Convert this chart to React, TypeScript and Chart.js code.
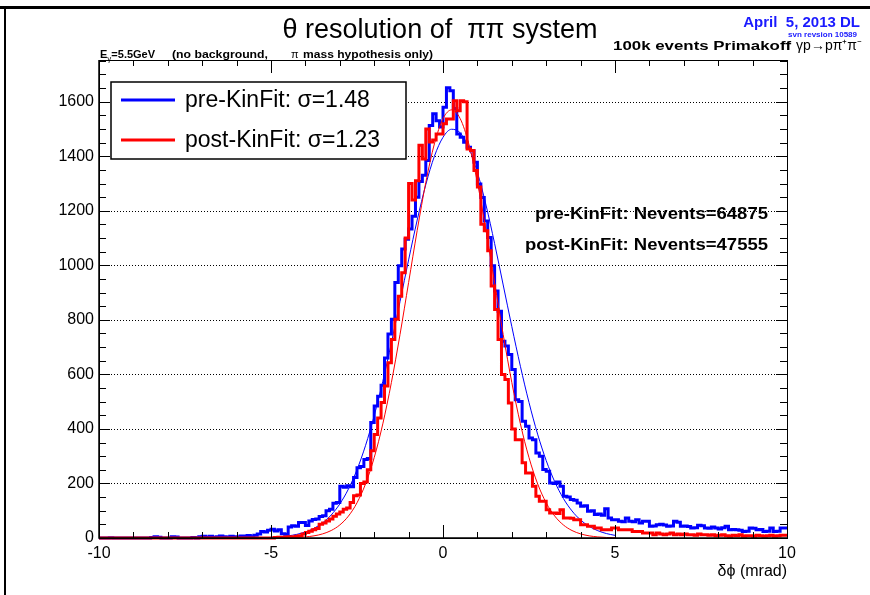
import { useEffect, useRef } from 'react';
import { Chart, registerables } from 'chart.js';

Chart.register(...registerables);

// ---------------- data ----------------
const BIN_START = -10;
const BIN_WIDTH = 0.1;

// pre-KinFit histogram (blue), 200 bins of 0.1 mrad from -10 to 10
const preKinFit = [
  0, 0, 0, 0, 1, 0, 0, 0, 0, 0,
  0, 0, 0, 0, 0, 0, 2, 5, 3, 0,
  0, 0, 5, 4, 0, 0, 0, 0, 2, 0,
  5, 6, 3, 6, 2, 5, 7, 5, 3, 6,
  5, 4, 7, 6, 9, 5, 10, 15, 24, 22,
  28, 32, 26, 30, 16, 14, 40, 45, 43, 57,
  57, 46, 62, 68, 70, 79, 82, 100, 105, 127,
  130, 190, 186, 192, 188, 222, 258, 262, 288, 292,
  424, 484, 520, 560, 660, 748, 802, 937, 998, 1060,
  1096, 1133, 1180, 1250, 1307, 1330, 1384, 1513, 1556, 1530,
  1507, 1580, 1651, 1640, 1575, 1482, 1470, 1451, 1433, 1420,
  1378, 1298, 1249, 1163, 1102, 998, 906, 832, 722, 704,
  673, 618, 507, 501, 428, 410, 367, 360, 312, 300,
  251, 245, 202, 200, 205, 190, 153, 150, 141, 138,
  128, 116, 118, 98, 100, 86, 88, 83, 107, 73,
  67, 67, 61, 60, 73, 61, 60, 67, 55, 61,
  61, 43, 44, 49, 50, 48, 43, 44, 61, 58,
  43, 44, 42, 37, 38, 47, 45, 37, 36, 40,
  37, 33, 38, 43, 30, 31, 30, 28, 24, 25,
  37, 36, 30, 31, 24, 25, 37, 24, 25, 37,
];

// post-KinFit histogram (red)
const postKinFit = [
  0, 0, 0, 0, 0, 0, 0, 0, 0, 0,
  0, 0, 0, 0, 0, 0, 0, 0, 0, 0,
  0, 0, 0, 0, 0, 0, 0, 0, 0, 0,
  0, 0, 0, 0, 0, 0, 0, 0, 0, 0,
  0, 0, 0, 0, 0, 0, 0, 0, 0, 0,
  0, 0, 2, 3, 2, 4, 5, 4, 6, 8,
  15, 20, 25, 30, 35, 50, 55, 62, 70, 80,
  88, 95, 105, 110, 130, 155, 158, 200, 205, 250,
  320, 380, 440, 497, 557, 643, 728, 802, 887, 973,
  1100, 1300, 1240, 1310, 1440, 1390, 1500, 1452, 1460, 1482,
  1482, 1519, 1537, 1537, 1604, 1567, 1604, 1600, 1427, 1421,
  1348, 1287, 1151, 1127, 1053, 924, 838, 728, 600, 581,
  495, 400, 360, 360, 276, 238, 238, 190, 153, 135,
  135, 104, 92, 92, 90, 104, 73, 73, 72, 67,
  67, 49, 49, 43, 43, 37, 37, 30, 30, 30,
  37, 37, 30, 30, 30, 30, 24, 24, 24, 18,
  18, 18, 12, 18, 15, 12, 15, 18, 12, 15,
  12, 15, 12, 12, 10, 15, 12, 12, 10, 12,
  8, 10, 12, 8, 6, 10, 8, 12, 6, 8,
  8, 6, 10, 8, 6, 8, 10, 6, 8, 10,
];

const fitX = [
  -5, -4.75, -4.5, -4.25, -4, -3.75, -3.5, -3.25, -3, -2.75,
  -2.5, -2.25, -2, -1.75, -1.5, -1.25, -1, -0.75, -0.5, -0.25,
  0, 0.25, 0.5, 0.75, 1, 1.25, 1.5, 1.75, 2, 2.25,
  2.5, 2.75, 3, 3.25, 3.5, 3.75, 4, 4.25, 4.5, 4.75, 5,
];
const preFit = [
  2.5, 4.4, 7.8, 13.3, 22, 35.5, 55.5, 84.5, 124.9, 179.4,
  250.5, 339.9, 448.5, 574.8, 716, 866.8, 1019.8, 1166, 1296, 1400,
  1469.5, 1499, 1486, 1432, 1341, 1221, 1080, 928, 775.5, 629.7,
  497, 381, 284, 205.8, 144.9, 99.2, 65.9, 42.6, 26.8, 16.3, 9.7,
];
const postFit = [
  0.2, 0.4, 0.9, 1.9, 4, 7.9, 15.1, 27.4, 47.8, 80.2,
  129, 199, 294.7, 418.6, 570.5, 746, 936.8, 1128, 1303.7, 1445.5,
  1538, 1570, 1538, 1445.5, 1303.7, 1128, 936.8, 746, 570.5, 418.6,
  294.7, 199, 129, 80.2, 47.8, 27.4, 15.1, 7.9, 4, 1.9, 0.9,
];

const xTicks = [-10, -5, 0, 5, 10];
const yTicks = [0, 200, 400, 600, 800, 1000, 1200, 1400, 1600];
const legendLabels = ['pre-KinFit: \u03c3=1.48', 'post-KinFit: \u03c3=1.23'];
const neventsLabels = ['pre-KinFit: Nevents=64875', 'post-KinFit: Nevents=47555'];
const BLUE = '#0000ff';
const RED = '#ff0000';
const FONT = '"Liberation Sans", Arial, Helvetica, sans-serif';

function toSteps(vals: number[]) {
  const pts = vals.map((v, i) => ({ x: BIN_START + i * BIN_WIDTH, y: v }));
  pts.push({ x: BIN_START + vals.length * BIN_WIDTH, y: vals[vals.length - 1] });
  return pts;
}
function toCurve(xs: number[], ys: number[]) {
  return xs.map((x, i) => ({ x, y: ys[i] }));
}

// draw text left-aligned at x, stretched horizontally to a given width
function wideText(ctx: any, text: string, x: number, y: number, width: number) {
  const w = ctx.measureText(text).width;
  ctx.save();
  ctx.textAlign = 'left';
  ctx.translate(x, y);
  ctx.scale(width / w, 1);
  ctx.fillText(text, 0, 0);
  ctx.restore();
}

const rootPlugin = {
  id: 'rootStyle',
  beforeDraw(chart: any) {
    const { ctx, width, height } = chart;
    ctx.save();
    ctx.fillStyle = '#fff';
    ctx.fillRect(0, 0, width, height);
    ctx.fillStyle = '#000';
    ctx.fillRect(0, 6, width, 3);
    ctx.fillRect(4, 6, 2, height - 6);
    ctx.restore();
  },
  beforeDatasetsDraw(chart: any) {
    const { ctx, chartArea } = chart;
    const y = chart.scales.y;
    ctx.save();
    ctx.strokeStyle = '#000';
    ctx.lineWidth = 1;
    ctx.setLineDash([1, 2]);
    yTicks.forEach((v) => {
      if (v === 0) return;
      const py = Math.round(y.getPixelForValue(v)) + 0.5;
      ctx.beginPath();
      ctx.moveTo(chartArea.left, py);
      ctx.lineTo(chartArea.right, py);
      ctx.stroke();
    });
    ctx.restore();
  },
  afterDatasetsDraw(chart: any) {
    const { ctx, chartArea } = chart;
    const xs = chart.scales.x;
    const ys = chart.scales.y;
    const L = chartArea.left, R = chartArea.right, T = chartArea.top, B = chartArea.bottom;
    ctx.save();
    ctx.strokeStyle = '#000';
    ctx.setLineDash([]);
    ctx.lineWidth = 1;
    ctx.strokeRect(Math.round(L) + 0.5, Math.round(T) + 0.5, Math.round(R - L), Math.round(B - T));
    ctx.lineWidth = 1.5;
    ctx.beginPath();
    ctx.moveTo(L, T); ctx.lineTo(L, B); ctx.lineTo(R, B);
    ctx.stroke();
    ctx.lineWidth = 1;
    for (let v = -10; v <= 10; v += 1) {
      const px = Math.round(xs.getPixelForValue(v)) + 0.5;
      const len = v % 5 === 0 ? 13 : 6;
      ctx.beginPath();
      ctx.moveTo(px, B); ctx.lineTo(px, B - len);
      ctx.moveTo(px, T); ctx.lineTo(px, T + len);
      ctx.stroke();
    }
    for (let v = 0; v <= 1750; v += 50) {
      const py = Math.round(ys.getPixelForValue(v)) + 0.5;
      if (py < T) continue;
      const len = v % 200 === 0 ? 11 : 7;
      ctx.beginPath();
      ctx.moveTo(L, py); ctx.lineTo(L + len, py);
      ctx.moveTo(R, py); ctx.lineTo(R - len, py);
      ctx.stroke();
    }

    // legend
    const lx = 111, ly = 82, lw = 295, lh = 77;
    ctx.fillStyle = '#fff';
    ctx.fillRect(lx, ly, lw, lh);
    ctx.lineWidth = 1.5;
    ctx.strokeRect(lx, ly, lw, lh);
    const cols = [BLUE, RED];
    legendLabels.forEach((lab, i) => {
      const yy = 100 + i * 40;
      ctx.strokeStyle = cols[i];
      ctx.lineWidth = 3;
      ctx.beginPath();
      ctx.moveTo(121, yy); ctx.lineTo(175, yy);
      ctx.stroke();
      ctx.fillStyle = '#000';
      ctx.font = `23px ${FONT}`;
      ctx.textAlign = 'left';
      ctx.textBaseline = 'middle';
      ctx.fillText(lab, 185, yy + 1);
    });

    // event counts
    ctx.fillStyle = '#000';
    ctx.textBaseline = 'alphabetic';
    ctx.font = `bold 16px ${FONT}`;
    wideText(ctx, neventsLabels[0], 535, 219, 233);
    wideText(ctx, neventsLabels[1], 525, 250, 243);

    // axis title
    ctx.textAlign = 'right';
    ctx.font = `16px ${FONT}`;
    ctx.fillText('\u03b4\u03d5 (mrad)', 787, 576);

    // main title
    ctx.textAlign = 'center';
    ctx.font = `27px ${FONT}`;
    ctx.fillText('\u03b8 resolution of  \u03c0\u03c0 system', 440, 38);

    // date stamp
    ctx.textAlign = 'right';
    ctx.fillStyle = '#1a1aff';
    ctx.font = `bold 15px ${FONT}`;
    ctx.fillText('April  5, 2013 DL', 860, 27);
    ctx.font = `bold 8px ${FONT}`;
    ctx.fillText('svn revsion 10589', 857, 37);

    // reaction
    ctx.fillStyle = '#000';
    ctx.font = `14px ${FONT}`;
    const rx = '\u03b3p\u2192p\u03c0\u207a\u03c0\u207b';
    const rw = ctx.measureText(rx).width;
    ctx.fillText(rx, 862, 50);
    ctx.font = `bold 13px ${FONT}`;
    wideText(ctx, '100k events Primakoff', 613, 50, 862 - rw - 5 - 613);

    // beam energy note
    ctx.textAlign = 'left';
    const ex = 100;
    ctx.font = `bold 11px ${FONT}`;
    ctx.fillText('E', ex, 58);
    const ew = ctx.measureText('E').width;
    ctx.font = `8px ${FONT}`;
    ctx.fillText('\u03b3', ex + ew, 61);
    const gw = ctx.measureText('\u03b3').width;
    ctx.font = `bold 11px ${FONT}`;
    ctx.fillText('=5.5GeV', ex + ew + gw, 58);
    wideText(ctx, '(no background,', 172, 58, 96);
    ctx.font = `11px ${FONT}`;
    ctx.fillText('\u03c0', 291, 58);
    ctx.font = `bold 11px ${FONT}`;
    wideText(ctx, 'mass hypothesis only)', 303, 58, 130);
    ctx.restore();
  },
};

export default function App() {
  const ref = useRef<HTMLCanvasElement>(null);
  useEffect(() => {
    document.body.style.margin = '0';
    const canvas = ref.current!;
    const chart = new Chart(canvas, {
      type: 'line',
      data: {
        datasets: [
          {
            label: 'post-KinFit fit',
            data: toCurve(fitX, postFit),
            borderColor: RED,
            borderWidth: 1,
            pointRadius: 0,
            tension: 0.4,
            cubicInterpolationMode: 'monotone',
            fill: false,
            order: 0,
          },
          {
            label: 'post-KinFit',
            data: toSteps(postKinFit),
            borderColor: RED,
            borderWidth: 3,
            pointRadius: 0,
            stepped: 'after',
            fill: false,
            clip: false,
            order: 1,
          },
          {
            label: 'pre-KinFit fit',
            data: toCurve(fitX, preFit),
            borderColor: BLUE,
            borderWidth: 1,
            pointRadius: 0,
            tension: 0.4,
            cubicInterpolationMode: 'monotone',
            fill: false,
            order: 2,
          },
          {
            label: 'pre-KinFit',
            data: toSteps(preKinFit),
            borderColor: BLUE,
            borderWidth: 3,
            pointRadius: 0,
            stepped: 'after',
            fill: false,
            clip: false,
            order: 3,
          },
        ],
      } as any,
      options: {
        animation: false,
        responsive: false,
        devicePixelRatio: 1,
        parsing: false as any,
        layout: { padding: { top: 60, right: 83, left: 0, bottom: 0 } },
        plugins: { legend: { display: false }, tooltip: { enabled: false }, title: { display: false } },
        scales: {
          x: {
            type: 'linear',
            min: -10,
            max: 10,
            afterBuildTicks: (s: any) => { s.ticks = xTicks.map((v) => ({ value: v })); },
            afterFit: (s: any) => { s.height = 57; },
            grid: { display: false, drawTicks: false },
            border: { display: false },
            ticks: {
              color: '#000', font: { family: FONT, size: 16 }, padding: 6, maxRotation: 0, autoSkip: false,
              callback: (v: any) => String(v),
            },
          },
          y: {
            type: 'linear',
            min: 0,
            max: 1753,
            afterBuildTicks: (s: any) => { s.ticks = yTicks.map((v) => ({ value: v })); },
            afterFit: (s: any) => { s.width = 99; },
            grid: { display: false, drawTicks: false },
            border: { display: false },
            ticks: {
              color: '#000', font: { family: FONT, size: 16 }, padding: 5, autoSkip: false,
              callback: (v: any) => String(v),
            },
          },
        },
      } as any,
      plugins: [rootPlugin],
    });
    return () => chart.destroy();
  }, []);
  return (
    <div style={{ position: 'relative', width: 870, height: 595 }}>
      <canvas ref={ref} width={870} height={595} style={{ display: 'block' }} />
    </div>
  );
}
